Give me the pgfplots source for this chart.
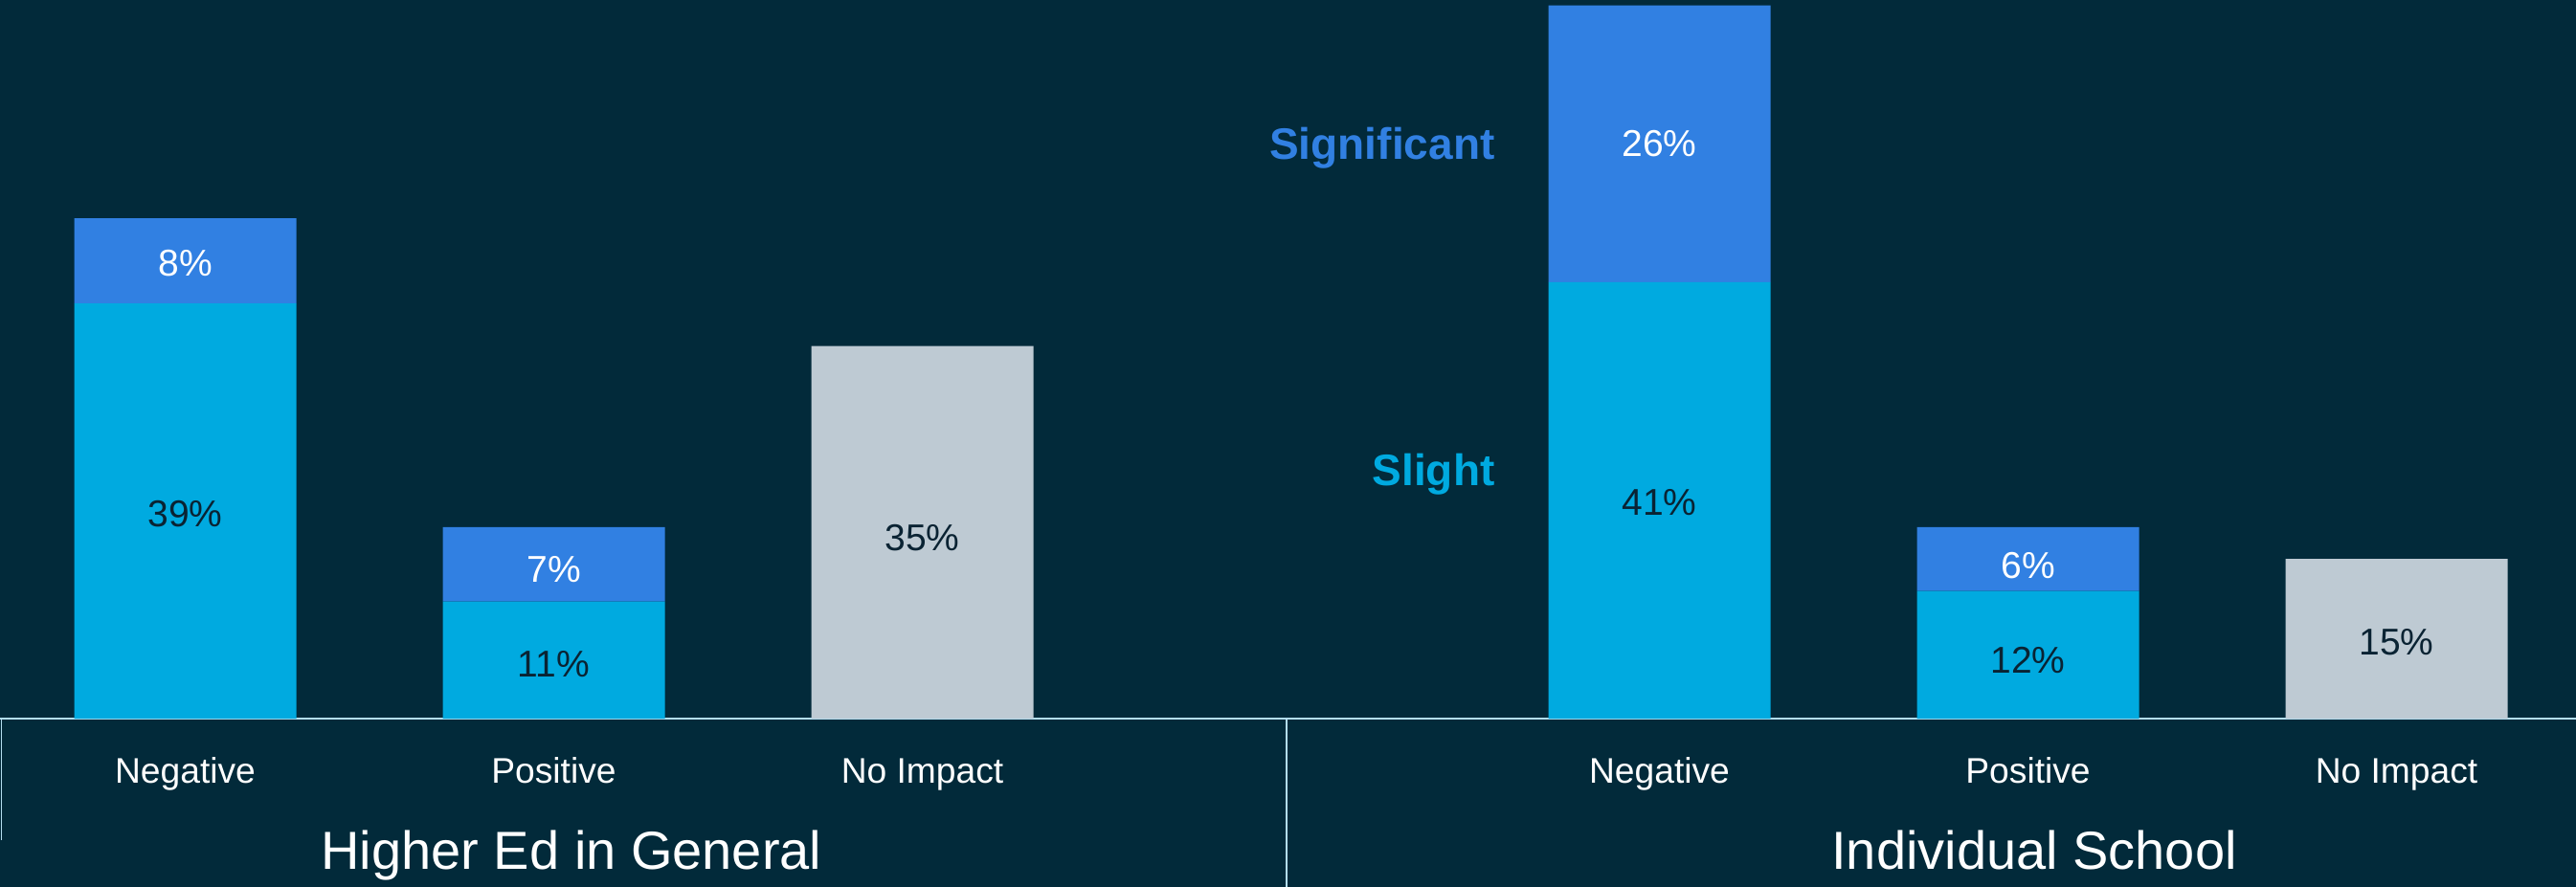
\documentclass[border=0pt]{standalone}
\usepackage{pgfplots}
\pgfplotsset{compat=1.18}
\usepackage{fontspec}
\setmainfont{Liberation Sans}
\definecolor{bg}{HTML}{022A3A}
\definecolor{slight}{HTML}{00AAE0}
\definecolor{signif}{HTML}{3180E2}
\definecolor{noimp}{HTML}{BECAD3}
\definecolor{linec}{HTML}{B3DDF0}
\definecolor{darktxt}{HTML}{0A2333}
\begin{document}
\begin{tikzpicture}
\fill[bg] (0,0) rectangle (672.75pt,231.75pt);
\begin{axis}[
  at={(0,0)}, anchor=south west,
  scale only axis,
  width=672.75pt, height=231.75pt,
  xmin=-0.5026, xmax=6.487,
  ymin=-15.8, ymax=67.5,
  hide axis,
  ybar stacked, bar width=58pt,
  clip=false,
]
\addplot[fill=slight, draw=none] coordinates {(0,39) (1,11) (2,0) (4,41) (5,12) (6,0)};
\addplot[fill=signif, draw=none] coordinates {(0,8) (1,7) (2,0) (4,26) (5,6) (6,0)};
\addplot[fill=noimp, draw=none] coordinates {(0,0) (1,0) (2,35) (4,0) (5,0) (6,15)};
% anchor points for value labels
\coordinate (l1) at (axis cs:0,19.2);
\coordinate (l2) at (axis cs:0,42.8);
\coordinate (l3) at (axis cs:1,5.1);
\coordinate (l4) at (axis cs:1,14.0);
\coordinate (l5) at (axis cs:2,17.0);
\coordinate (l6) at (axis cs:4,20.3);
\coordinate (l7) at (axis cs:4,54);
\coordinate (l8) at (axis cs:5,5.5);
\coordinate (l9) at (axis cs:5,14.4);
\coordinate (l10) at (axis cs:6,7.2);
% category labels
\node[inner sep=0pt, font=\fontsize{9.3}{10}\selectfont, text=white, anchor=base] at (axis cs:0,-6.03) {Negative};
\node[inner sep=0pt, font=\fontsize{9.3}{10}\selectfont, text=white, anchor=base] at (axis cs:1,-6.03) {Positive};
\node[inner sep=0pt, font=\fontsize{9.3}{10}\selectfont, text=white, anchor=base] at (axis cs:2,-6.03) {No Impact};
\node[inner sep=0pt, font=\fontsize{9.3}{10}\selectfont, text=white, anchor=base] at (axis cs:4,-6.03) {Negative};
\node[inner sep=0pt, font=\fontsize{9.3}{10}\selectfont, text=white, anchor=base] at (axis cs:5,-6.03) {Positive};
\node[inner sep=0pt, font=\fontsize{9.3}{10}\selectfont, text=white, anchor=base] at (axis cs:6,-6.03) {No Impact};
% group titles
\node[inner sep=0pt, font=\fontsize{14}{16}\selectfont, text=white, anchor=base] at (axis cs:1.048,-14.1) {Higher Ed in General};
\node[inner sep=0pt, font=\fontsize{14}{16}\selectfont, text=white, anchor=base] at (axis cs:5.017,-14.1) {Individual School};
% series labels
\node[inner sep=0pt, font=\fontsize{11.5}{13}\selectfont\bfseries, text=signif, anchor=base east] at (axis cs:3.555,52.5) {Significant};
\node[inner sep=0pt, font=\fontsize{11.5}{13}\selectfont\bfseries, text=slight, anchor=base east] at (axis cs:3.555,21.9) {Slight};
% frame lines
\draw[linec, line width=0.5pt] (axis cs:-0.5026,0) -- (axis cs:6.487,0);
\draw[linec, line width=0.4pt] (axis cs:-0.4985,0) -- (axis cs:-0.4985,-11.4);
\draw[linec, line width=0.4pt] (axis cs:2.988,0) -- (axis cs:2.988,-15.8);
\end{axis}
\begin{scope}[every node/.style={inner sep=0pt, font=\fontsize{9.75}{11}\selectfont, anchor=center}]
\node[text=darktxt] at (l1) {39\%};
\node[text=white]   at (l2) {8\%};
\node[text=darktxt] at (l3) {11\%};
\node[text=white]   at (l4) {7\%};
\node[text=darktxt] at (l5) {35\%};
\node[text=darktxt] at (l6) {41\%};
\node[text=white]   at (l7) {26\%};
\node[text=darktxt] at (l8) {12\%};
\node[text=white]   at (l9) {6\%};
\node[text=darktxt] at (l10) {15\%};
\end{scope}
\pgfresetboundingbox
\path[use as bounding box] (0,0) rectangle (672.75pt,231.75pt);
\end{tikzpicture}
\end{document}
